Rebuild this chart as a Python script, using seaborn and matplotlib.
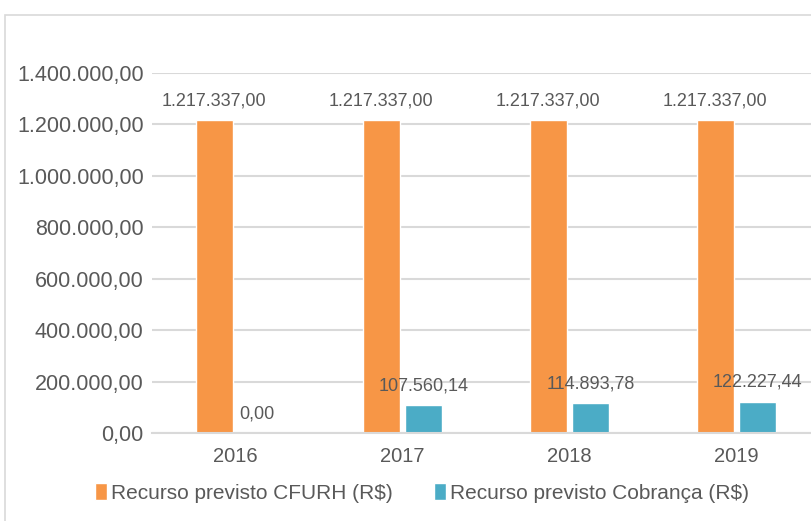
import seaborn as sns
import matplotlib.pyplot as plt
import pandas as pd
from matplotlib.patches import Rectangle
from matplotlib.ticker import FuncFormatter

# dados do grafico
anos = ["2016", "2017", "2018", "2019"]
cfurh = [1217337.00, 1217337.00, 1217337.00, 1217337.00]
cobranca = [0.00, 107560.14, 114893.78, 122227.44]
series = ["Recurso previsto CFURH (R$)", "Recurso previsto Cobrança (R$)"]
cores = ["#F79646", "#4BACC6"]
yticks = [0, 200000, 400000, 600000, 800000, 1000000, 1200000, 1400000]


def br(v):
    s = f"{v:,.2f}"
    return s.replace(",", "X").replace(".", ",").replace("X", ".")


df = pd.DataFrame({
    "Ano": anos * 2,
    "Valor": cfurh + cobranca,
    "Serie": [series[0]] * len(anos) + [series[1]] * len(anos),
})

sns.set_style("white")
plt.rcParams["font.family"] = ["Liberation Sans", "DejaVu Sans"]
texto = "#595959"
grade = "#D9D9D9"

fig = plt.figure(figsize=(8.11, 5.21), dpi=100)
# moldura do grafico (cortada a direita e embaixo)
fig.patches.append(Rectangle((5 / 811, -0.05), 1.0, (521 - 15) / 521 + 0.05,
                             transform=fig.transFigure, fill=False,
                             edgecolor=grade, linewidth=1.2))

ax = fig.add_axes([152 / 811, (521 - 433) / 521, 668 / 811, 360 / 521])
sns.barplot(data=df, x="Ano", y="Valor", hue="Serie", palette=cores,
            width=0.51, gap=0.13, ax=ax, saturation=1, legend=True)

ax.set_ylim(0, 1400000)
ax.set_yticks(yticks)
ax.yaxis.set_major_formatter(FuncFormatter(lambda v, p: br(v)))
ax.grid(axis="y", color=grade, linewidth=1.5)
ax.set_axisbelow(True)
for lado in ["top", "right", "left"]:
    ax.spines[lado].set_visible(False)
ax.spines["bottom"].set_color(grade)
ax.spines["bottom"].set_linewidth(1.5)
ax.tick_params(axis="y", length=0, labelsize=15.5, colors=texto, pad=6)
ax.tick_params(axis="x", length=0, labelsize=14.5, colors=texto, pad=10)
ax.set_xlabel("")
ax.set_ylabel("")

# rotulos de dados
for cont in ax.containers:
    for barra in cont:
        x = barra.get_x() + barra.get_width() / 2
        h = barra.get_height()
        ax.annotate(br(h), (x, h), xytext=(0, 14), textcoords="offset points",
                    ha="center", va="center", fontsize=13, color=texto,
                    annotation_clip=False)

ax.legend_.remove()
fig.legend(*ax.get_legend_handles_labels(), loc="center",
           bbox_to_anchor=(422 / 811, 28 / 521), ncol=2, frameon=False,
           fontsize=15, labelcolor=texto, handlelength=0.55,
           handleheight=0.9, handletextpad=0.2, columnspacing=2.0)

fig.savefig("out.png", dpi=100)
